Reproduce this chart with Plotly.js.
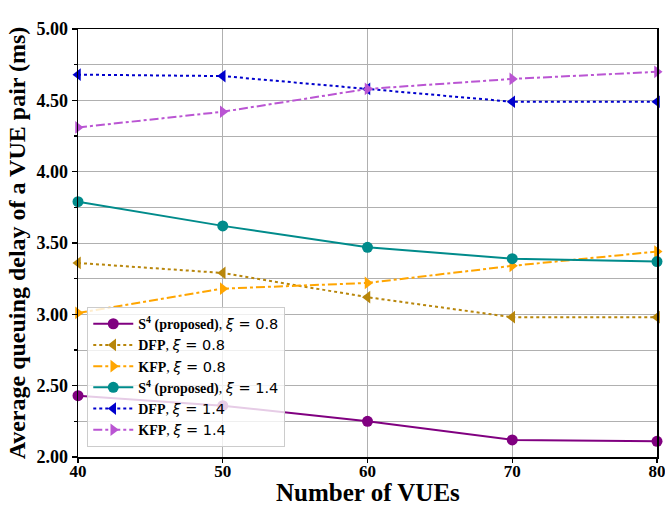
<!DOCTYPE html>
<html>
<head>
<meta charset="utf-8">
<script src="https://cdn.plot.ly/plotly-3.0.1.min.js"></script>
<style>html,body{margin:0;padding:0;background:#fff;}#chart{width:665px;height:508px;}</style>
</head>
<body>
<div id="chart"></div>
<script>
const vues = [40, 50, 60, 70, 80];
const s4_08  = [2.43, 2.36, 2.25, 2.12, 2.11];
const dfp_08 = [3.36, 3.29, 3.12, 2.98, 2.98];
const kfp_08 = [3.01, 3.18, 3.22, 3.34, 3.44];
const s4_14  = [3.79, 3.62, 3.47, 3.39, 3.37];
const dfp_14 = [4.68, 4.67, 4.58, 4.49, 4.49];
const kfp_14 = [4.31, 4.42, 4.58, 4.65, 4.70];
const yTicks = [2.0, 2.5, 3.0, 3.5, 4.0, 4.5, 5.0];
const xTicks = [40, 50, 60, 70, 80];

const serif = "Liberation Serif, Times New Roman, serif";
const xi = v => ', <span style="font-family:DejaVu Sans;font-weight:normal;font-size:14.5px"><i>ξ</i> = ' + v + '</span>';

function tr(y, name, color, dash, symbol) {
  return {
    x: vues, y: y, name: name, type: 'scatter', mode: 'lines+markers',
    line: {color: color, width: 2, dash: dash},
    marker: {color: color, symbol: symbol, size: 11},
    cliponaxis: false
  };
}

const data = [
  tr(s4_08, '<b>S<sup>4</sup> (proposed)</b>' + xi('0.8'), '#800080', 'solid', 'circle'),
  tr(dfp_08, '<b>DFP</b>' + xi('0.8'), '#B8860B', 'dot', 'triangle-left'),
  tr(kfp_08, '<b>KFP</b>' + xi('0.8'), '#FFA500', 'dashdot', 'triangle-right'),
  tr(s4_14, '<b>S<sup>4</sup> (proposed)</b>' + xi('1.4'), '#008B8B', 'solid', 'circle'),
  tr(dfp_14, '<b>DFP</b>' + xi('1.4'), '#0000CD', 'dot', 'triangle-left'),
  tr(kfp_14, '<b>KFP</b>' + xi('1.4'), '#BA55D3', 'dashdot', 'triangle-right')
];

const layout = {
  width: 665, height: 508,
  margin: {l: 78, r: 8, t: 29, b: 51},
  paper_bgcolor: '#fff', plot_bgcolor: '#fff',
  font: {family: serif, color: '#000'},
  showlegend: true,
  legend: {
    x: 0.016, y: 0.023, xanchor: 'left', yanchor: 'bottom',
    bgcolor: 'rgba(255,255,255,0.8)', bordercolor: '#cccccc', borderwidth: 1,
    font: {family: serif, size: 14, color: '#000'},
    itemwidth: 40, tracegroupgap: 0
  },
  annotations: [{
    text: '<b>Number of VUEs</b>', xref: 'paper', yref: 'paper', x: 0.5, y: -0.1165,
    xanchor: 'center', yanchor: 'bottom', showarrow: false, borderpad: 0,
    font: {family: serif, size: 25, color: '#000'}
  }],
  xaxis: {
    range: [40, 80], tickvals: xTicks, ticktext: xTicks.map(v => '<b>' + v + '</b>'),
    ticks: 'outside', ticklen: 4, tickwidth: 1.2, tickcolor: '#000',
    ticklabeloverflow: 'allow', ticklabelstandoff: -6,
    showline: true, linecolor: '#000', linewidth: 1.5, mirror: true,
    showgrid: true, gridcolor: '#b0b0b0', gridwidth: 1, zeroline: false,
    tickfont: {family: serif, size: 17, color: '#000'}
  },
  yaxis: {
    range: [2, 5], tickvals: yTicks, ticktext: yTicks.map(v => '<b>' + v.toFixed(2) + '</b>'),
    ticks: 'outside', ticklen: 5, tickwidth: 1.2, tickcolor: '#000',
    ticklabeloverflow: 'allow',
    showline: true, linecolor: '#000', linewidth: 1.5, mirror: true,
    showgrid: true, gridcolor: '#b0b0b0', gridwidth: 1, zeroline: false,
    minor: {dtick: 0.25, tick0: 2, ticks: 'outside', ticklen: 3, tickcolor: '#000', showgrid: true, gridcolor: '#b0b0b0', gridwidth: 1},
    tickfont: {family: serif, size: 18, color: '#000'},
    title: {text: '<b>Average queuing delay of a VUE pair (ms)</b>', font: {family: serif, size: 24, color: '#000'}, standoff: 4}
  }
};

Plotly.newPlot('chart', data, layout, {displayModeBar: false, staticPlot: true});
</script>
</body>
</html>
